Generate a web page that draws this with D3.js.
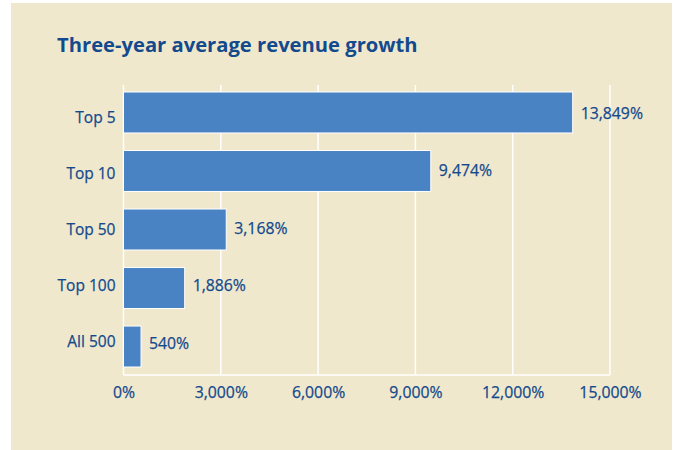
<!DOCTYPE html>
<html>
<head>
<meta charset="utf-8">
<script src="https://cdnjs.cloudflare.com/ajax/libs/d3/7.8.5/d3.min.js"></script>
<style>
  body { margin: 0; background: #fff; }
  svg text { font-family: "Open Sans", "Noto Sans", sans-serif; }
</style>
</head>
<body>
<div id="chart"></div>
<script>
// chart data
var categories = ["Top 5", "Top 10", "Top 50", "Top 100", "All 500"];
var growth = [13849, 9474, 3168, 1886, 540];
var xTicks = [0, 3000, 6000, 9000, 12000, 15000];

var svgWidth = 677, svgHeight = 450;
var margin = { top: 85, right: 67, bottom: 75, left: 123.5 };
var chartWidth = svgWidth - margin.left - margin.right;
var chartHeight = svgHeight - margin.top - margin.bottom;

var textColor = "#134a8e";

var svg = d3.select("#chart")
  .append("svg")
  .attr("width", svgWidth)
  .attr("height", svgHeight);

// beige panel
svg.append("rect")
  .attr("x", 11).attr("y", 3)
  .attr("width", 661).attr("height", 447)
  .attr("fill", "#f0e8cc");

svg.append("text")
  .attr("x", 57).attr("y", 52)
  .attr("fill", textColor)
  .attr("font-size", "20.2px")
  .attr("font-weight", "bold")
  .text("Three-year average revenue growth");

var chartGroup = svg.append("g")
  .attr("transform", `translate(${margin.left}, ${margin.top})`);

var data = categories.map(function(c, i) { return { cat: c, value: growth[i] }; });

var xScale = d3.scaleLinear().domain([0, 15000]).range([0, 486.5]);
// bars sit in bands, the text labels are spaced a little tighter (like the original)
var yScale = d3.scaleBand().domain(categories).range([7, 282]).paddingInner(0.3).paddingOuter(0);
var yLabel = d3.scalePoint().domain(categories).range([33, 257]);
var yValue = d3.scalePoint().domain(categories).range([28, 258]);

// gridlines
chartGroup.selectAll(".grid")
  .data(xTicks)
  .enter()
  .append("line")
  .attr("x1", d => xScale(d)).attr("x2", d => xScale(d))
  .attr("y1", 0).attr("y2", chartHeight)
  .attr("stroke", "#ffffff")
  .attr("stroke-width", 1.5);

// x axis line
chartGroup.append("line")
  .attr("x1", 0).attr("x2", xScale(15000))
  .attr("y1", chartHeight).attr("y2", chartHeight)
  .attr("stroke", "#ffffff")
  .attr("stroke-width", 1.5);

var bottomAxis = d3.axisBottom(xScale)
  .tickValues(xTicks)
  .tickSize(0)
  .tickPadding(12)
  .tickFormat(d => d3.format(",")(d) + "%");

var xAxis = chartGroup.append("g")
  .attr("transform", `translate(0, ${chartHeight})`)
  .call(bottomAxis);
xAxis.select(".domain").remove();
xAxis.selectAll("text")
  .attr("fill", textColor)
  .attr("stroke", textColor)
  .attr("stroke-width", 0.25)
  .attr("font-size", "15.8px");

var leftAxis = d3.axisLeft(yLabel).tickSize(0).tickPadding(8);
var yAxis = chartGroup.append("g").call(leftAxis);
yAxis.select(".domain").remove();
yAxis.selectAll("text")
  .attr("fill", textColor)
  .attr("stroke", textColor)
  .attr("stroke-width", 0.25)
  .attr("font-size", "15.5px");

// bars
chartGroup.selectAll(".bar")
  .data(data)
  .enter()
  .append("rect")
  .attr("x", 0)
  .attr("y", d => yScale(d.cat))
  .attr("width", d => xScale(d.value))
  .attr("height", yScale.bandwidth())
  .attr("fill", "#4a83c3")
  .attr("stroke", "#ffffff")
  .attr("stroke-width", 1);

// value labels
chartGroup.selectAll(".label")
  .data(data)
  .enter()
  .append("text")
  .attr("x", d => xScale(d.value) + 8)
  .attr("y", d => yValue(d.cat))
  .attr("dy", "0.35em")
  .attr("fill", textColor)
  .attr("stroke", textColor)
  .attr("stroke-width", 0.25)
  .attr("font-size", "15.8px")
  .text(d => d3.format(",")(d.value) + "%");
</script>
</body>
</html>
